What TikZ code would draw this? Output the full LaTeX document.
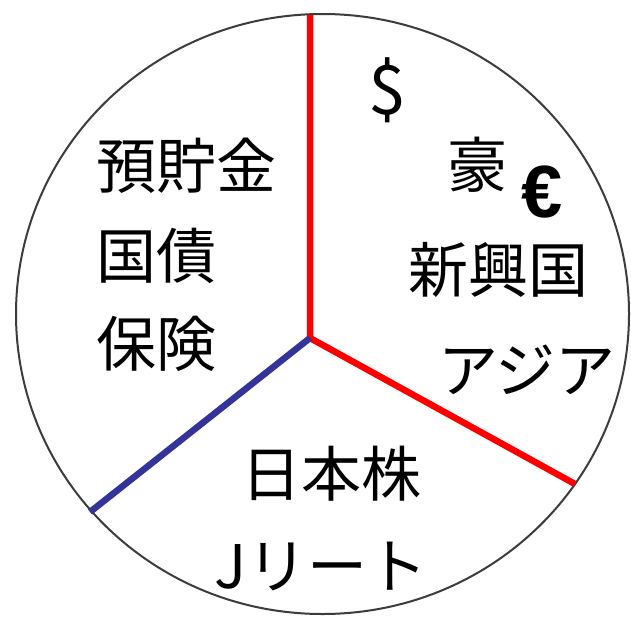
\documentclass[tikz,border=0pt]{standalone}
\usepackage{fontspec}
\newfontfamily\jfont{Noto Sans CJK JP}
\newfontfamily\eurofont{Liberation Sans}
\begin{document}
\begin{tikzpicture}[x=1pt,y=-1pt,
  lbl/.style={inner sep=0pt,font=\jfont\fontsize{60}{60}\selectfont},
  redline/.style={draw=red,line width=6.5pt},
  blueline/.style={draw={rgb,255:red,51;green,51;blue,153},line width=6.5pt}]
\useasboundingbox (0,0) rectangle (631,616);
\fill[white] (0,0) rectangle (631,616);
\draw[draw={rgb,255:red,60;green,60;blue,60},line width=2pt] (322.5,314) ellipse [x radius=306.5, y radius=300];
\coordinate (hub) at (310,338);
\coordinate (top) at (310,15);
\coordinate (rt) at (575,484);
\coordinate (lb) at (90,512);
\draw[redline] (top) -- (hub) -- (rt);
\draw[blueline] (hub) -- (lb);
\node[lbl,anchor=west] (a1) at (96,166) {預貯金};
\node[lbl,anchor=west] (a2) at (96,256) {国債};
\node[lbl,anchor=west] (a3) at (96,344) {保険};
\node[inner sep=0pt,font=\jfont\fontsize{68}{68}\selectfont] (d) at (387,90) {\$};
\node[lbl] (g) at (477,165) {豪};
\node[inner sep=0pt,font=\eurofont\bfseries\fontsize{74}{74}\selectfont] (e) at (542,192) {€};
\node[lbl] (s) at (498,270) {新興国};
\node[lbl] (as) at (527,370) {アジア};
\node[lbl] (j) at (331,474) {日本株};
\node[lbl] (r) at (321,566) {Jリート};
\end{tikzpicture}
\end{document}
